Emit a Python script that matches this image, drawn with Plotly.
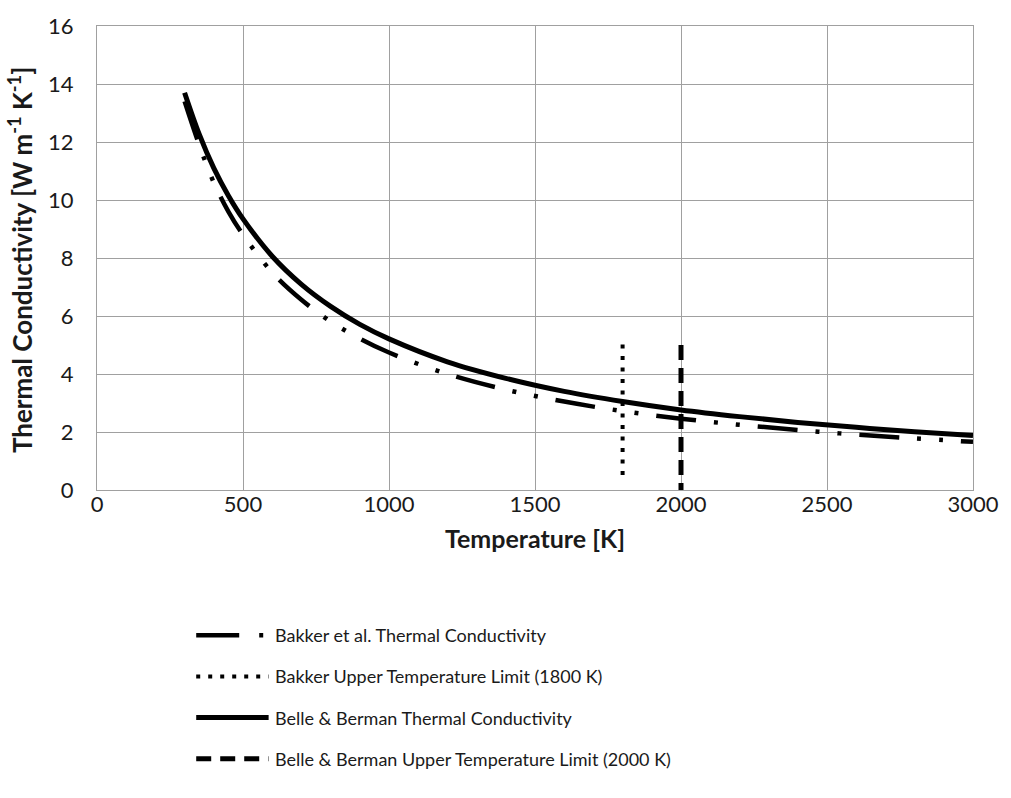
import plotly.graph_objects as go

# ---- data ----
temp_K = [300, 350, 400, 450, 500, 600, 700, 800, 900, 1000, 1200, 1400, 1600,
          1800, 2000, 2200, 2400, 2600, 2800, 3000]
bakker_k = [13.4, 11.9, 10.6, 9.6, 8.8, 7.5, 6.56, 5.81, 5.22, 4.74, 4.0, 3.46,
            3.05, 2.72, 2.46, 2.25, 2.07, 1.91, 1.78, 1.66]
belle_k = [13.7, 12.27, 11.1, 10.15, 9.35, 8.06, 7.09, 6.33, 5.71, 5.21, 4.42,
           3.85, 3.40, 3.05, 2.76, 2.53, 2.33, 2.16, 2.01, 1.88]
bakker_limit_x = [1800, 1800]
bakker_limit_y = [5.02, 0.3]
belle_limit_x = [2000, 2000]
belle_limit_y = [5, 0]

x_ticks = [0, 500, 1000, 1500, 2000, 2500, 3000]
y_ticks = [0, 2, 4, 6, 8, 10, 12, 14, 16]

x_title = "<b>Temperature [K]</b>"
y_title = "<b>Thermal Conductivity [W m<sup>-1</sup> K<sup>-1</sup>]</b>"

legend_names = [
    "Bakker et al. Thermal Conductivity",
    "Bakker Upper Temperature Limit (1800 K)",
    "Belle & Berman Thermal Conductivity",
    "Belle & Berman Upper Temperature Limit (2000 K)",
]

FONT = "Lato"
TXT = "#1a1a1a"
BAKKER_DASH = "40px,18px,4px,18px,4px,18px"
DOT_DASH = "4px,7.5px"
LIMIT_DASH = "15px,8px"

fig = go.Figure()
fig.add_trace(go.Scatter(x=temp_K, y=bakker_k, mode="lines", name=legend_names[0],
                         line=dict(color="black", width=4.5, dash=BAKKER_DASH, shape="spline")))
fig.add_trace(go.Scatter(x=bakker_limit_x, y=bakker_limit_y, mode="lines", name=legend_names[1],
                         line=dict(color="black", width=4, dash=DOT_DASH)))
fig.add_trace(go.Scatter(x=temp_K, y=belle_k, mode="lines", name=legend_names[2],
                         line=dict(color="black", width=5, shape="spline")))
fig.add_trace(go.Scatter(x=belle_limit_x, y=belle_limit_y, mode="lines", name=legend_names[3],
                         line=dict(color="black", width=5, dash=LIMIT_DASH)))

# ---- manual legend below the plot ----
L, R, T, B = 97, 980, 17, 490
def xp(px):
    return (px - L) / (R - L)
def yp(py):
    return (B - py) / (B - T)

rows_y = [638, 680, 722, 764]
styles = [
    dict(width=4.5, dash="43px,20px,4px,40px"),
    dict(width=4, dash="4px,8px"),
    dict(width=5, dash="solid"),
    dict(width=5, dash="15px,9px"),
]
for name, ry, st in zip(legend_names, rows_y, styles):
    fig.add_shape(type="line", xref="paper", yref="paper",
                  x0=xp(197), x1=xp(270), y0=yp(ry), y1=yp(ry),
                  line=dict(color="black", **st))
    fig.add_annotation(xref="paper", yref="paper", x=xp(274), y=yp(ry),
                       xanchor="left", yanchor="middle", showarrow=False,
                       text=name, font=dict(family=FONT, size=18, color=TXT))

# y-axis title as a rotated annotation, centred on the plot height
fig.add_annotation(xref="paper", yref="paper", x=xp(20), y=yp(256),
                   xanchor="center", yanchor="middle", showarrow=False,
                   textangle=-90, text=y_title,
                   font=dict(family=FONT, size=26, color=TXT))

axis_common = dict(showgrid=True, gridcolor="#a0a0a0", gridwidth=1.3,
                   showline=True, linecolor="#a0a0a0", linewidth=1.3, mirror=True,
                   zeroline=False, ticks="",
                   tickfont=dict(family=FONT, size=22, color=TXT))

fig.update_layout(
    width=1011, height=798,
    margin=dict(l=L, r=1011 - R, t=T, b=798 - B),
    paper_bgcolor="white", plot_bgcolor="white",
    showlegend=False,
    xaxis=dict(range=[0, 3000], tickvals=x_ticks, ticklabelstandoff=-6,
               title=dict(text=x_title, standoff=14,
                          font=dict(family=FONT, size=25, color=TXT)),
               **axis_common),
    yaxis=dict(range=[0, 16], tickvals=y_ticks, ticklabelstandoff=18,
               **axis_common),
)

fig.write_html("out.html")
